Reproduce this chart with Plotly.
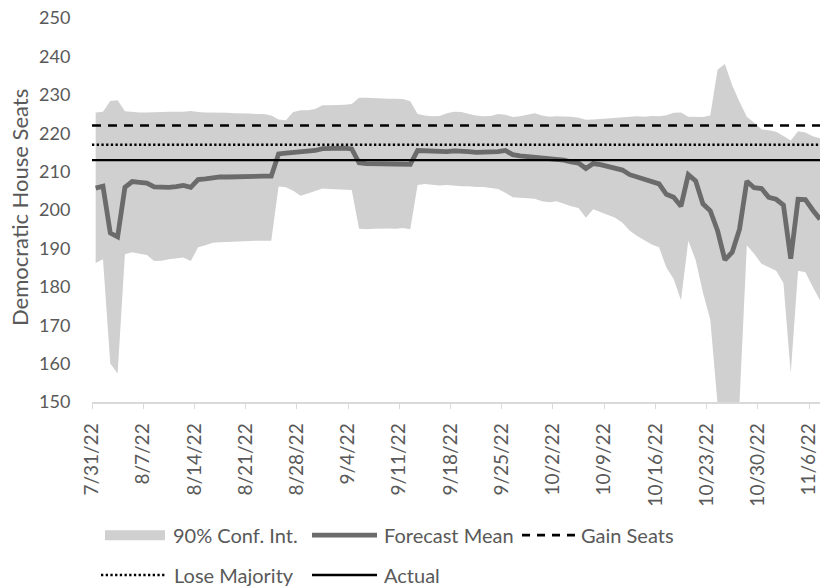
import pandas as pd
import plotly.graph_objects as go

# Daily forecast of Democratic House seats, 2022 midterms
start_date = "2022-07-31"

forecast_mean = [
    205.7, 206.2, 194.0, 193.0, 205.9, 207.4, 207.2, 207.0, 206.0, 205.8,
    205.9, 206.1, 206.4, 205.9, 207.9, 208.1, 208.5, 208.6, 208.6, 208.7,
    208.7, 208.8, 208.8, 208.8, 208.8, 214.6, 214.8, 214.9, 215.1, 215.2,
    215.5, 216.0, 216.1, 216.1, 216.1, 215.9, 212.3, 212.1, 212.1, 212.1,
    212.1, 212.0, 212.1, 211.9, 215.5, 215.4, 215.3, 215.2, 215.2, 215.4,
    215.4, 215.2, 215.0, 215.0, 215.0, 215.2, 215.5, 214.4, 214.1, 213.9,
    213.8, 213.6, 213.4, 213.3, 213.0, 212.5, 212.2, 210.8, 212.1, 211.8,
    211.3, 210.9, 210.4, 209.2, 208.6, 208.3, 207.7, 206.8, 204.1, 203.3,
    201.0, 209.2, 207.6, 201.6, 199.8, 194.6, 187.0, 189.0, 195.0, 207.5,
    205.8, 205.6, 203.3, 202.8, 201.3, 187.3, 202.8, 202.7, 200.0, 197.6,
]

ci_upper = [
    225.4, 225.6, 228.4, 228.6, 225.7, 225.5, 225.4, 225.4, 225.5, 225.5,
    225.6, 225.6, 225.6, 225.8, 225.5, 225.4, 225.4, 225.3, 225.3, 225.2,
    225.2, 225.1, 225.0, 225.0, 224.6, 223.6, 223.4, 225.5, 226.0, 226.0,
    226.3, 227.3, 227.3, 227.3, 227.4, 227.6, 229.2, 229.2, 229.1, 229.1,
    229.0, 229.0, 228.9, 228.3, 225.0, 224.6, 224.4, 224.5, 225.2, 225.6,
    225.5, 225.0, 224.6, 224.4, 224.5, 225.0, 224.8, 224.2, 224.4, 224.8,
    225.2, 224.6, 224.3, 224.4, 224.4, 224.3, 224.0, 223.5, 223.6, 223.7,
    223.8, 224.0, 224.1, 224.3, 224.4, 224.3, 224.5, 224.4, 224.7, 225.3,
    225.4, 224.3, 224.3, 224.2, 224.6, 236.5, 238.0, 232.5, 228.2, 224.3,
    222.7, 221.0, 220.8, 220.4, 219.3, 218.1, 220.5, 220.2, 219.2, 218.7,
]

ci_lower = [
    186.2, 187.2, 160.0, 157.4, 188.5, 189.0, 188.6, 188.3, 186.7, 186.8,
    187.2, 187.4, 187.6, 186.7, 190.3, 190.8, 191.5, 191.6, 191.7, 191.8,
    191.8, 191.9, 192.0, 192.0, 192.0, 206.1, 205.9, 205.0, 203.7, 204.3,
    205.0, 205.6, 205.5, 205.4, 205.3, 205.2, 195.1, 195.0, 195.1, 195.2,
    195.2, 195.1, 195.3, 195.0, 206.5, 206.8, 206.6, 206.4, 206.5, 206.3,
    206.2, 206.2, 206.0, 206.0, 205.8, 205.5, 204.5, 203.3, 203.2, 203.1,
    202.9, 202.3, 202.0, 202.3, 201.6, 201.0, 200.5, 198.0, 200.2, 199.5,
    198.9, 198.0, 196.7, 194.6, 193.2, 192.2, 191.0, 190.3, 185.0, 182.0,
    176.5, 192.0, 187.0, 178.5, 171.5, 149.5, 146.0, 147.0, 150.0, 190.8,
    188.6, 186.0, 185.1, 184.2, 181.0, 157.5, 184.2, 183.8, 180.0, 176.5,
]

gain_seats = 222
lose_majority = 217
actual_seats = 213

tick_labels = [
    "7/31/22", "8/7/22", "8/14/22", "8/21/22", "8/28/22", "9/4/22", "9/11/22",
    "9/18/22", "9/25/22", "10/2/22", "10/9/22", "10/16/22", "10/23/22",
    "10/30/22", "11/6/22",
]

# ---------------------------------------------------------------------------
days = pd.date_range(start_date, periods=len(forecast_mean), freq="D")
x_days = days + pd.Timedelta(hours=12)          # each value sits mid-day
tick_vals = pd.date_range(start_date, periods=len(tick_labels), freq="7D")
x_range = [days[0], days[-1] + pd.Timedelta(hours=12)]

TEXT = "#595959"
FILL = "#d0d0d0"
MEAN = "#6b6b6b"
AXIS = "#d9d9d9"
FONT = "Lato"

fig = go.Figure()

# 90% confidence band
fig.add_trace(go.Scatter(x=x_days, y=ci_lower, mode="lines", line=dict(width=0),
                         hoverinfo="skip", showlegend=False))
fig.add_trace(go.Scatter(x=x_days, y=ci_upper, mode="lines", line=dict(width=0),
                         fill="tonexty", fillcolor=FILL, name="90% Conf. Int.",
                         showlegend=False))
# forecast mean
fig.add_trace(go.Scatter(x=x_days, y=forecast_mean, mode="lines",
                         line=dict(color=MEAN, width=4.8), name="Forecast Mean",
                         showlegend=False))
# threshold lines
fig.add_trace(go.Scatter(x=x_range, y=[gain_seats] * 2, mode="lines",
                         line=dict(color="black", width=2.6, dash="9px,7px"),
                         name="Gain Seats", showlegend=False))
fig.add_trace(go.Scatter(x=x_range, y=[lose_majority] * 2, mode="lines",
                         line=dict(color="black", width=2.5, dash="2.3px,2.4px"),
                         name="Lose Majority", showlegend=False))
fig.add_trace(go.Scatter(x=x_range, y=[actual_seats] * 2, mode="lines",
                         line=dict(color="black", width=2.4),
                         name="Actual", showlegend=False))

# ---------------------------------------------------------------------------
W, H = 820, 588
L, R, T, B = 92, 0, 17.5, 185.5
PW, PH = W - L - R, H - T - B


def px_x(px):
    return (px - L) / PW


def px_y(py):
    return (H - B - py) / PH


shapes = []
annotations = []
row1, row2 = 536, 576

# legend keys
shapes.append(dict(type="rect", xref="paper", yref="paper",
                   x0=px_x(105), x1=px_x(165), y0=px_y(541), y1=px_y(531),
                   fillcolor=FILL, line=dict(width=0)))
shapes.append(dict(type="line", xref="paper", yref="paper",
                   x0=px_x(312), x1=px_x(377), y0=px_y(row1), y1=px_y(row1),
                   line=dict(color=MEAN, width=4.8)))
shapes.append(dict(type="line", xref="paper", yref="paper",
                   x0=px_x(522), x1=px_x(577), y0=px_y(row1), y1=px_y(row1),
                   line=dict(color="black", width=2.6, dash="8px,7px")))
shapes.append(dict(type="line", xref="paper", yref="paper",
                   x0=px_x(101), x1=px_x(166), y0=px_y(row2), y1=px_y(row2),
                   line=dict(color="black", width=2.5, dash="2.3px,2.4px")))
shapes.append(dict(type="line", xref="paper", yref="paper",
                   x0=px_x(312), x1=px_x(377), y0=px_y(row2), y1=px_y(row2),
                   line=dict(color="black", width=2.4)))

legend_text = [
    ("90% Conf. Int.", 171, row1),
    ("Forecast Mean", 382, row1),
    ("Gain Seats", 579, row1),
    ("Lose Majority", 172, row2),
    ("Actual", 382, row2),
]
for txt, lx, ly in legend_text:
    annotations.append(dict(text=txt, xref="paper", yref="paper",
                            x=px_x(lx), y=px_y(ly), xanchor="left",
                            yanchor="middle", showarrow=False,
                            font=dict(family=FONT, size=20, color=TEXT)))

# y-axis title
annotations.append(dict(text="Democratic House Seats", xref="paper", yref="paper",
                        x=px_x(19), y=px_y(208), textangle=-90,
                        xanchor="center", yanchor="middle", showarrow=False,
                        font=dict(family=FONT, size=22, color=TEXT)))

fig.update_layout(
    width=W, height=H,
    margin=dict(l=L, r=R, t=T, b=B, autoexpand=False),
    paper_bgcolor="white", plot_bgcolor="white",
    font=dict(family=FONT, color=TEXT),
    shapes=shapes, annotations=annotations,
    showlegend=False,
)
fig.update_xaxes(
    type="date", range=x_range,
    tickvals=tick_vals, ticktext=tick_labels, tickangle=-90,
    tickfont=dict(family=FONT, size=19, color=TEXT),
    ticklabelstandoff=7,
    showline=True, linecolor=AXIS, linewidth=1.5,
    ticks="outside", ticklen=5, tickcolor=AXIS, tickwidth=1.3,
    showgrid=False, zeroline=False,
)
fig.update_yaxes(
    range=[150, 250], dtick=10, tick0=150,
    tickfont=dict(family=FONT, size=18, color=TEXT),
    ticks="outside", ticklen=17, tickcolor="rgba(0,0,0,0)",
    showline=False, showgrid=False, zeroline=False,
)

fig.write_html("out.html")
